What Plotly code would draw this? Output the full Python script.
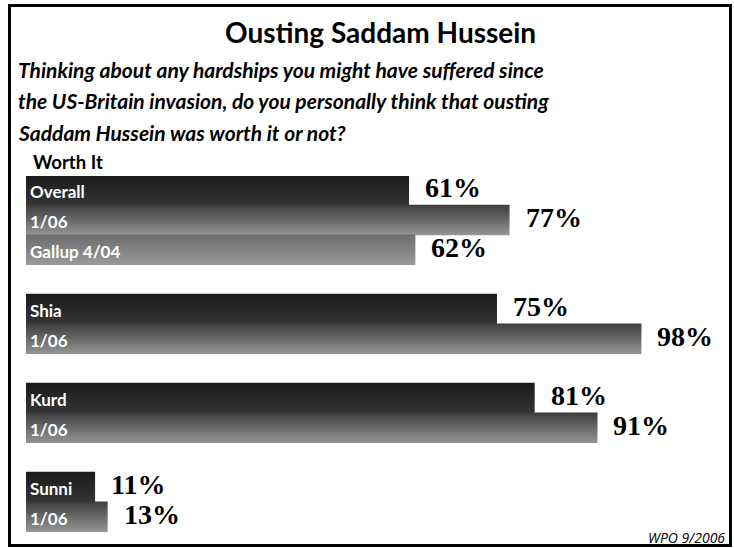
import plotly.graph_objects as go

# ---- data ----
row_labels = ["Overall", "1/06", "Gallup 4/04", "Shia", "1/06", "Kurd", "1/06", "Sunni", "1/06"]
row_values = [61, 77, 62, 75, 98, 81, 91, 11, 13]
row_slots = [0, 1, 2, 4, 5, 7, 8, 10, 11]
row_kind = ["now", "past", "gallup", "now", "past", "now", "past", "now", "past"]

title = "Ousting Saddam Hussein"
question_lines = ["Thinking about any hardships you might have suffered since",
                  "the US-Britain invasion, do you personally think that ousting",
                  "Saddam Hussein was worth it or not?"]
section_label = "Worth It"
source = "WPO 9/2006"

W, H = 734, 548
n_slots = 12
gradients = {
    "now": [[0, "#353535"], [1, "#1a1a1a"]],
    "past": [[0, "#969696"], [1, "#3c3c3c"]],
    "gallup": [[0, "#9a9a9a"], [1, "#6c6c6c"]],
}

FONT = "Lato"
fig = go.Figure()
for lab, val, slot, kind in zip(row_labels, row_values, row_slots, row_kind):
    yc = (n_slots - 1) - slot
    fig.add_trace(go.Scatter(
        x=[0, val, val, 0, 0],
        y=[yc - 0.5, yc - 0.5, yc + 0.53, yc + 0.53, yc - 0.5],
        mode="lines", line=dict(width=0), fill="toself",
        fillgradient=dict(type="vertical", colorscale=gradients[kind]),
        hoverinfo="skip", showlegend=False,
    ))
    fig.add_annotation(x=0, y=yc, xref="x", yref="y", text=f"<b>{lab}</b>",
                       xanchor="left", yanchor="middle", xshift=2, yshift=-1,
                       showarrow=False,
                       font=dict(family=FONT, size=17, color="white"))
    fig.add_annotation(x=val, y=yc, xref="x", yref="y", text=f"<b>{val}%</b>",
                       xanchor="left", yanchor="middle", xshift=14, yshift=3,
                       showarrow=False,
                       font=dict(family="Liberation Serif", size=28, color="black"))

x0, x100 = 26, 654
ytop, ybot = 176, 532
fig.update_layout(
    width=W, height=H, margin=dict(l=0, r=0, t=0, b=0),
    paper_bgcolor="white", plot_bgcolor="white",
    xaxis=dict(domain=[x0 / W, x100 / W], range=[0, 100], visible=False, fixedrange=True),
    yaxis=dict(domain=[(H - ybot) / H, (H - ytop) / H], range=[-0.5, n_slots - 0.5],
               visible=False, fixedrange=True),
    shapes=[dict(type="rect", xref="paper", yref="paper",
                 x0=9.5 / W, x1=730.5 / W, y0=1 - 545.5 / H, y1=1 - 5.5 / H,
                 line=dict(color="black", width=3))],
)
fig.add_annotation(x=380 / W, y=1 - 32 / H, xref="paper", yref="paper", text=f"<b>{title}</b>",
                   xanchor="center", yanchor="middle", showarrow=False,
                   font=dict(family=FONT, size=28, color="black"))
for i, (line, yy) in enumerate(zip(question_lines, [69, 101, 132])):
    fig.add_annotation(x=16 / W, y=1 - yy / H, xref="paper", yref="paper",
                       text=f"<b><i>{line}</i></b>", align="left",
                       xanchor="left", yanchor="middle", showarrow=False,
                       font=dict(family=FONT, size=21, color="black"))
fig.add_annotation(x=31 / W, y=1 - 162 / H, xref="paper", yref="paper",
                   text=f"<b>{section_label}</b>",
                   xanchor="left", yanchor="middle", showarrow=False,
                   font=dict(family=FONT, size=18.5, color="black"))
fig.add_annotation(x=727 / W, y=1 - 537 / H, xref="paper", yref="paper",
                   text=f"<i>{source}</i>",
                   xanchor="right", yanchor="middle", showarrow=False,
                   font=dict(family="Open Sans", size=14, color="black"))

fig.write_html("out.html", config={"displayModeBar": False},
               post_script="document.body.style.margin='0px';")
